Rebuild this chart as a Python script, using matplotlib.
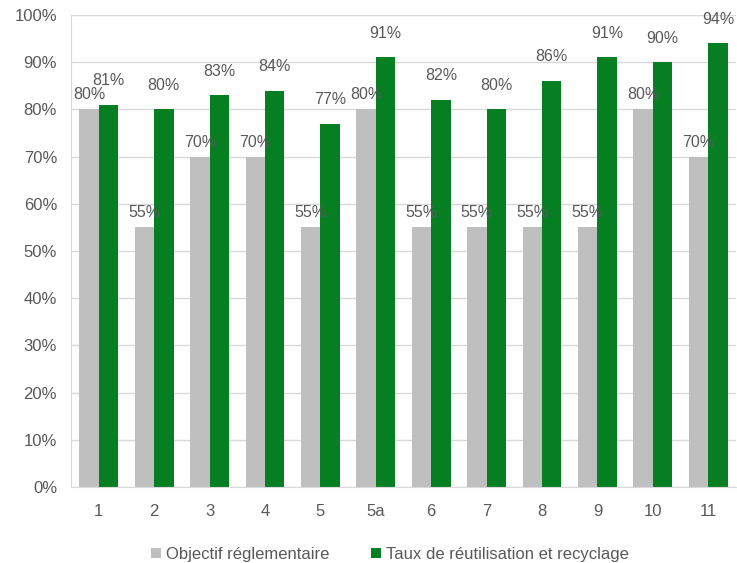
import matplotlib
matplotlib.use("Agg")
import matplotlib.pyplot as plt
import numpy as np
from matplotlib.ticker import PercentFormatter

categories = ["1", "2", "3", "4", "5", "5a", "6", "7", "8", "9", "10", "11"]
objectif = [80, 55, 70, 70, 55, 80, 55, 55, 55, 55, 80, 70]
taux = [81, 80, 83, 84, 77, 91, 82, 80, 86, 91, 90, 94]

GREY = "#bfbfbf"
GREEN = "#067f23"
TXT = "#595959"

plt.rcParams["font.family"] = ["Liberation Sans", "DejaVu Sans"]

fig = plt.figure(figsize=(7.37, 5.63), dpi=100)
ax = fig.add_axes([71 / 737, 76 / 563, 665 / 737, 472 / 563])

x = np.arange(len(categories))
w = 0.35
b1 = ax.bar(x - w / 2, objectif, w, color=GREY, label="Objectif réglementaire", zorder=2)
b2 = ax.bar(x + w / 2, taux, w, color=GREEN, label="Taux de réutilisation et recyclage", zorder=2)

ax.bar_label(b1, labels=[f"{v}%" for v in objectif], padding=5, color=TXT, fontsize=11.5)
ax.bar_label(b2, labels=[f"{v}%" for v in taux], padding=12, color=TXT, fontsize=11.5)

ax.set_ylim(0, 100)
ax.set_xlim(-0.5, 11.5)
ax.set_yticks(np.arange(0, 101, 10))
ax.yaxis.set_major_formatter(PercentFormatter(decimals=0))
ax.set_xticks(x)
ax.set_xticklabels(categories)
ax.tick_params(axis="both", length=0, colors=TXT, labelsize=12, pad=10)
ax.tick_params(axis="x", pad=12)

ax.grid(axis="y", color="#d9d9d9", lw=1, zorder=0)
for s in ["top", "right"]:
    ax.spines[s].set_visible(False)
ax.spines["left"].set_color("#d9d9d9")
ax.spines["bottom"].set_color("#d9d9d9")

ax.legend(loc="upper center", bbox_to_anchor=(0.48, -0.095), ncol=2, frameon=False,
          fontsize=12, labelcolor=TXT, handlelength=0.6, handleheight=0.6,
          handletextpad=0.3, columnspacing=2.5)

fig.savefig("out.png", dpi=100)
